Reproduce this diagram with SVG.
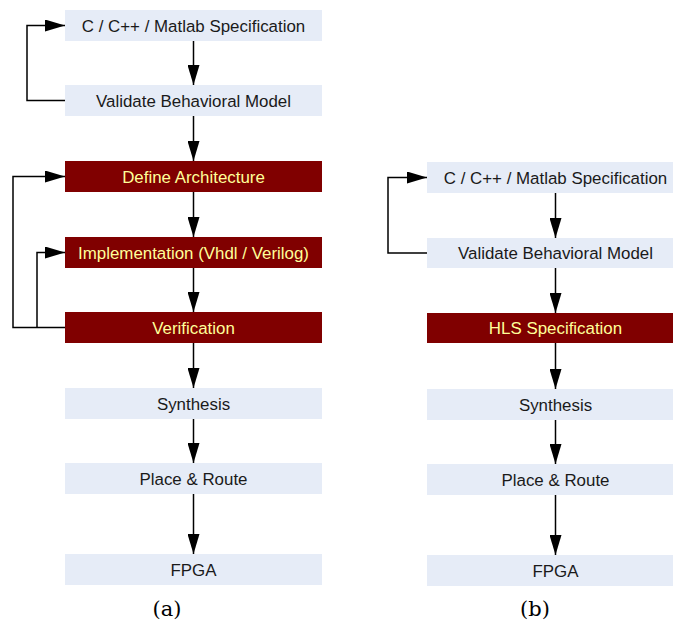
<svg xmlns="http://www.w3.org/2000/svg" width="673" height="625" viewBox="0 0 673 625">
<defs>
<marker id="ah" markerUnits="userSpaceOnUse" markerWidth="20" markerHeight="12" refX="20" refY="6" orient="auto"><path d="M0,0 L20,6 L0,12 Z" fill="#000"/></marker>
</defs>
<style>
.lt{fill:#E6ECF7}
.dk{fill:#800000}
.t{font-family:"Liberation Sans",Arial,sans-serif;font-size:16.9px;text-anchor:middle;fill:#1a1a1a}
.ty{font-family:"Liberation Sans",Arial,sans-serif;font-size:16.9px;text-anchor:middle;fill:#FFFF99}
.c{fill:none;stroke:#000;stroke-width:1.5;marker-end:url(#ah)}
.cap{font-family:"DejaVu Serif","Liberation Serif",serif;font-size:21px;text-anchor:middle;fill:#000}
</style>
<rect width="673" height="625" fill="#fff"/>
<g id="a-spec"><rect class="lt" x="65" y="10" width="257" height="31"/><text class="t" x="193.5" y="31.5">C / C++ / Matlab Specification</text></g>
<g id="a-validate"><rect class="lt" x="65" y="85" width="257" height="31"/><text class="t" x="193.5" y="106.5">Validate Behavioral Model</text></g>
<g id="a-arch"><rect class="dk" x="65" y="161" width="257" height="31"/><text class="ty" x="193.5" y="182.5">Define Architecture</text></g>
<g id="a-impl"><rect class="dk" x="65" y="237" width="257" height="31"/><text class="ty" x="193.5" y="258.5">Implementation (Vhdl / Verilog)</text></g>
<g id="a-verif"><rect class="dk" x="65" y="312" width="257" height="31"/><text class="ty" x="193.5" y="333.5">Verification</text></g>
<g id="a-synth"><rect class="lt" x="65" y="388" width="257" height="31"/><text class="t" x="193.5" y="409.5">Synthesis</text></g>
<g id="a-pr"><rect class="lt" x="65" y="463" width="257" height="31"/><text class="t" x="193.5" y="484.5">Place &amp; Route</text></g>
<g id="a-fpga"><rect class="lt" x="65" y="554" width="257" height="31"/><text class="t" x="193.5" y="575.5">FPGA</text></g>

<g id="b-spec"><rect class="lt" x="427" y="162" width="246" height="31"/><text class="t" x="555.5" y="183.5">C / C++ / Matlab Specification</text></g>
<g id="b-validate"><rect class="lt" x="427" y="238" width="246" height="30"/><text class="t" x="555.5" y="259">Validate Behavioral Model</text></g>
<g id="b-hls"><rect class="dk" x="427" y="313" width="246" height="30"/><text class="ty" x="555.5" y="334">HLS Specification</text></g>
<g id="b-synth"><rect class="lt" x="427" y="389" width="246" height="31"/><text class="t" x="555.5" y="410.5">Synthesis</text></g>
<g id="b-pr"><rect class="lt" x="427" y="464" width="246" height="31"/><text class="t" x="555.5" y="485.5">Place &amp; Route</text></g>
<g id="b-fpga"><rect class="lt" x="427" y="555" width="246" height="31"/><text class="t" x="555.5" y="576.5">FPGA</text></g>

<g id="connectors">
<path class="c" d="M193.5,41 V85"/>
<path class="c" d="M193.5,116 V161"/>
<path class="c" d="M193.5,192 V237"/>
<path class="c" d="M193.5,268 V312"/>
<path class="c" d="M193.5,343 V388"/>
<path class="c" d="M193.5,419 V463"/>
<path class="c" d="M193.5,494 V554"/>
<path class="c" d="M65,100.5 H27 V25.5 H65"/>
<path class="c" d="M65,327.5 H13 V176.5 H65"/>
<path class="c" d="M37,327.5 V252.5 H65"/>
<path class="c" d="M555.5,193 V238"/>
<path class="c" d="M555.5,268 V313"/>
<path class="c" d="M555.5,343 V389"/>
<path class="c" d="M555.5,420 V464"/>
<path class="c" d="M555.5,495 V555"/>
<path class="c" d="M427,253 H388 V177.5 H427"/>
</g>
<text class="cap" x="167" y="616">(a)</text>
<text class="cap" x="535" y="616">(b)</text>
</svg>
